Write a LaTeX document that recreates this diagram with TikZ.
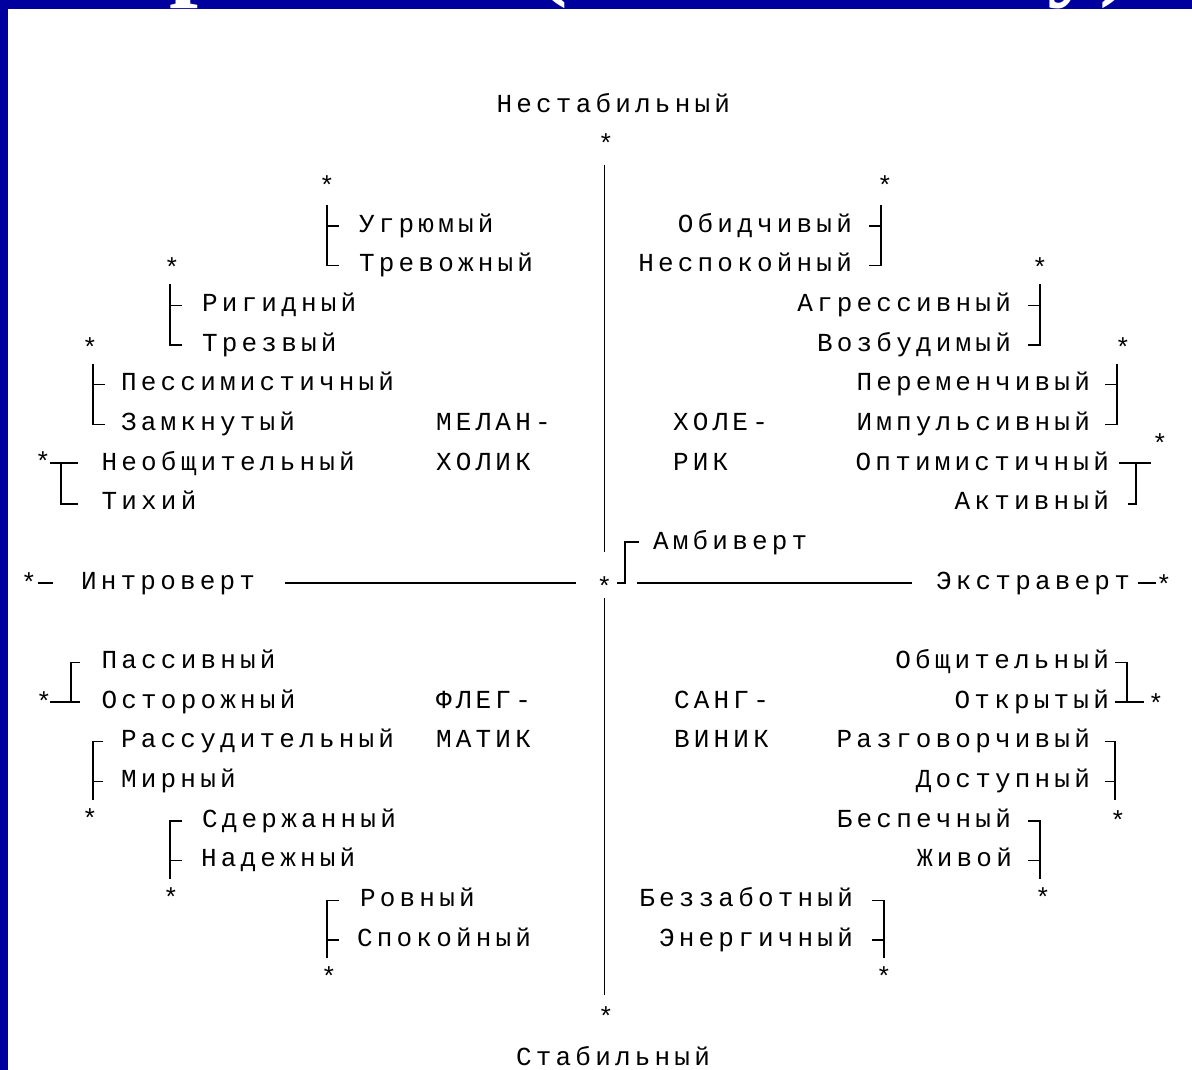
\documentclass[tikz,border=0pt]{standalone}
\usepackage{fontspec}
\newfontfamily\monofont{Liberation Mono}
\newfontfamily\titlefont{Liberation Serif}
\makeatletter
\newcommand\gridtext[1]{\@tfor\gt@c:=#1\do{\makebox[19.8pt]{\gt@c}}}
\makeatother
\newcommand\diagfont{\monofont\fontsize{26}{30}\selectfont}
\definecolor{bgblue}{RGB}{0,0,158}
\begin{document}
\begin{tikzpicture}[x=1pt,y=-1pt,
  lbl/.style={inner sep=0pt, outer sep=0pt, font=\diagfont, text=black},
  lw/.style={lbl, anchor=base west},
  le/.style={lbl, anchor=base east},
  star/.style={inner sep=0pt, outer sep=0pt, font=\diagfont, anchor=base},
  br/.style={line width=1.4pt, black}]
\useasboundingbox (0,0) rectangle (1192,1070);
\fill[bgblue] (0,0) rectangle (1192,1070);
\begin{scope}
  \clip (0,0) rectangle (1192,10);
  \node[anchor=base west, inner sep=0pt, text=white,
        font=\titlefont\bfseries\fontsize{104}{110}\selectfont] (title) at (-119,-13) {Темперамент (по Айзенку)};
\end{scope}
\fill[white] (7.5,9.5) rectangle (1192,1070);

% ---------- axis labels ----------
\node[lw] (nest) at (494.5,113.0) {\gridtext{Нестабильный}};
\node[lw] (stab) at (514,1065.1) {\gridtext{Стабильный}};
\node[lw] (intro) at (79,589.0) {\gridtext{Интроверт}};
\node[lw] (extra) at (934,589.0) {\gridtext{Экстраверт}};
\node[lw] (ambi) at (651,549.4) {\gridtext{Амбиверт}};

% ---------- temperaments ----------
\node[lw] (mel1) at (434,430.4) {\gridtext{МЕЛАН-}};
\node[lw] (mel2) at (434,470.0) {\gridtext{ХОЛИК}};
\node[lw] (hol1) at (671,430.4) {\gridtext{ХОЛЕ-}};
\node[lw] (hol2) at (671,470.0) {\gridtext{РИК}};
\node[lw] (fle1) at (434,708.1) {\gridtext{ФЛЕГ-}};
\node[lw] (fle2) at (434,747.7) {\gridtext{МАТИК}};
\node[lw] (san1) at (672,708.1) {\gridtext{САНГ-}};
\node[lw] (san2) at (672,747.7) {\gridtext{ВИНИК}};

% ---------- left upper ----------
\node[lw] (t1) at (357,232.0) {\gridtext{Угрюмый}};
\node[lw] (t2) at (357,271.7) {\gridtext{Тревожный}};
\node[lw] (t3) at (200,311.4) {\gridtext{Ригидный}};
\node[lw] (t4) at (200,351.0) {\gridtext{Трезвый}};
\node[lw] (t5) at (119,390.7) {\gridtext{Пессимистичный}};
\node[lw] (t6) at (119,430.4) {\gridtext{Замкнутый}};
\node[lw] (t7) at (99.5,470.0) {\gridtext{Необщительный}};
\node[lw] (t8) at (99.5,509.7) {\gridtext{Тихий}};

% ---------- right upper ----------
\node[le] (u1) at (854,232.0) {\gridtext{Обидчивый}};
\node[le] (u2) at (854,271.7) {\gridtext{Неспокойный}};
\node[le] (u3) at (1013,311.4) {\gridtext{Агрессивный}};
\node[le] (u4) at (1013,351.0) {\gridtext{Возбудимый}};
\node[le] (u5) at (1092,390.7) {\gridtext{Переменчивый}};
\node[le] (u6) at (1092,430.4) {\gridtext{Импульсивный}};
\node[le] (u7) at (1111,470.0) {\gridtext{Оптимистичный}};
\node[le] (u8) at (1111,509.7) {\gridtext{Активный}};

% ---------- left lower ----------
\node[lw] (l1) at (99.5,668.4) {\gridtext{Пассивный}};
\node[lw] (l2) at (99.5,708.1) {\gridtext{Осторожный}};
\node[lw] (l3) at (119,747.7) {\gridtext{Рассудительный}};
\node[lw] (l4) at (119,787.4) {\gridtext{Мирный}};
\node[lw] (l5) at (200,827.1) {\gridtext{Сдержанный}};
\node[lw] (l6) at (199,866.7) {\gridtext{Надежный}};
\node[lw] (l7) at (358,906.4) {\gridtext{Ровный}};
\node[lw] (l8) at (355,946.1) {\gridtext{Спокойный}};

% ---------- right lower ----------
\node[le] (r1) at (1111,668.4) {\gridtext{Общительный}};
\node[le] (r2) at (1111,708.1) {\gridtext{Открытый}};
\node[le] (r3) at (1092,747.7) {\gridtext{Разговорчивый}};
\node[le] (r4) at (1092,787.4) {\gridtext{Доступный}};
\node[le] (r5) at (1013,827.1) {\gridtext{Беспечный}};
\node[le] (r6) at (1014,866.7) {\gridtext{Живой}};
\node[le] (r7) at (855,906.4) {\gridtext{Беззаботный}};
\node[le] (r8) at (855,946.1) {\gridtext{Энергичный}};

% ---------- stars (centre + 14 = baseline) ----------
\node[star] (sN) at (606,153) {*};
\node[star] (sS) at (606,1025) {*};
\node[star] (sC) at (604.5,595) {*};
\node[star] (sI) at (29,591) {*};
\node[star] (sE) at (1164,593) {*};
\node[star] (a1) at (327,195) {*};
\node[star] (a2) at (885,195) {*};
\node[star] (a3) at (172,276) {*};
\node[star] (a4) at (1040,276) {*};
\node[star] (a5) at (90,356) {*};
\node[star] (a6) at (1123,356) {*};
\node[star] (a7) at (43,470) {*};
\node[star] (a8) at (1160,452) {*};
\node[star] (b1) at (44,710) {*};
\node[star] (b2) at (1156,712) {*};
\node[star] (b3) at (90,827) {*};
\node[star] (b4) at (1118,829) {*};
\node[star] (b5) at (171,906) {*};
\node[star] (b6) at (1043,906) {*};
\node[star] (b7) at (329,985) {*};
\node[star] (b8) at (884,985) {*};

% ---------- axes ----------
\coordinate (axT) at (604.5,165);
\coordinate (axM1) at (604.5,552);
\coordinate (axM2) at (604.5,598);
\coordinate (axB) at (604.5,995);
\draw[br] (axT) -- (axM1);
\draw[br] (axM2) -- (axB);
\draw[br] (285,583) -- (576,583);
\draw[br] (637,583) -- (912,583);
\draw[br] (617,583) -- (625,583) -- (625,542) -- (639,542);
\draw[br] (38,583) -- (53,583);
\draw[br] (1138,583) -- (1156,583);

% ---------- left upper brackets ----------
\draw[br] (327,205) -- (327,265.7) -- (339,265.7);
\draw[br] (327,226) -- (339,226);
\draw[br] (170,284.4) -- (170,345) -- (182,345);
\draw[br] (170,305.4) -- (182,305.4);
\draw[br] (93,363.7) -- (93,424.4) -- (105,424.4);
\draw[br] (93,384.7) -- (105,384.7);
\draw[br] (50,463) -- (78,463);
\draw[br] (61,463) -- (61,504) -- (78,504);

% ---------- right upper brackets ----------
\draw[br] (881,205) -- (881,265.7) -- (869,265.7);
\draw[br] (881,226) -- (869,226);
\draw[br] (1040,284.4) -- (1040,345) -- (1028,345);
\draw[br] (1040,305.4) -- (1028,305.4);
\draw[br] (1117,363.7) -- (1117,424.4) -- (1105,424.4);
\draw[br] (1117,384.7) -- (1105,384.7);
\draw[br] (1119,463) -- (1151,463);
\draw[br] (1136,463) -- (1136,504) -- (1128,504);

% ---------- left lower brackets ----------
\draw[br] (80,662.4) -- (71,662.4) -- (71,702);
\draw[br] (50,702) -- (80,702);
\draw[br] (103,741.7) -- (93,741.7) -- (93,800);
\draw[br] (93,781.4) -- (103,781.4);
\draw[br] (182,821) -- (170,821) -- (170,879);
\draw[br] (170,860.7) -- (182,860.7);
\draw[br] (339,900.4) -- (327,900.4) -- (327,958);
\draw[br] (327,940) -- (339,940);

% ---------- right lower brackets ----------
\draw[br] (1115,662.4) -- (1127,662.4) -- (1127,702);
\draw[br] (1115,702) -- (1144,702);
\draw[br] (1105,741.7) -- (1115,741.7) -- (1115,800);
\draw[br] (1115,781.4) -- (1105,781.4);
\draw[br] (1028,821) -- (1040,821) -- (1040,879);
\draw[br] (1040,860.7) -- (1028,860.7);
\draw[br] (872,900.4) -- (884,900.4) -- (884,958);
\draw[br] (884,940) -- (872,940);
\end{tikzpicture}
\end{document}
